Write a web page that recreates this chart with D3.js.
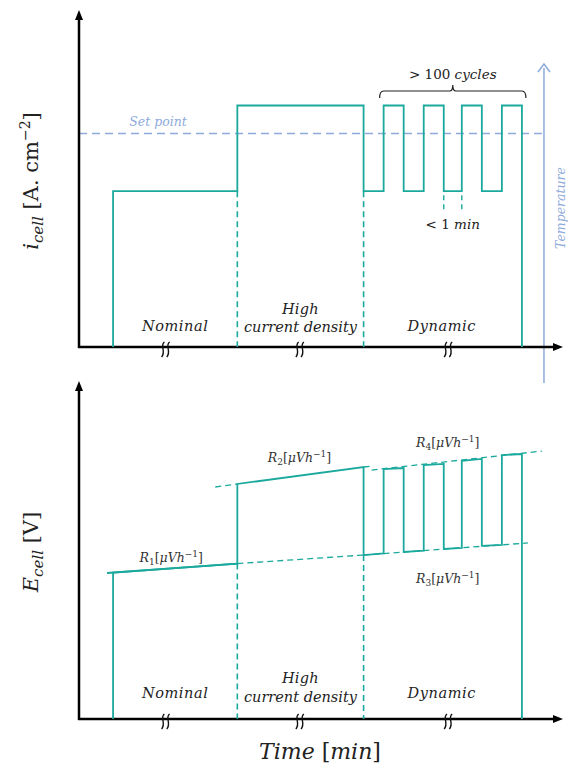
<!DOCTYPE html>
<html><head><meta charset="utf-8">
<script src="https://cdn.jsdelivr.net/npm/d3@7"></script>
<style>html,body{margin:0;padding:0;background:#fff}svg{display:block}</style>
</head><body>
<script>
// ---------- data (schematic, arbitrary units) ----------
const phaseNames = ["Nominal", "High|current density", "Dynamic"];
const phaseStart = [17, 79, 142];
const phaseEnd = [79, 142, 221];
const breakTimes = [43, 110, 184];

// current density step signal
const iTime  = [17,17,79,79,142,142,152,152,162,162,172,172,182,182,191,191,201,201,211,211,221,221];
const iValue = [0,1.0,1.0,1.55,1.55,1.0,1.0,1.55,1.55,1.0,1.0,1.55,1.55,1.0,1.0,1.55,1.55,1.0,1.0,1.55,1.55,0];
const setPoint = 1.37;
const shortGap = [182, 191];

// cell voltage signal
const eTime  = [17,17,79,79,142,142,152,152,162,162,172,172,182,182,191,191,201,201,211,211,221,221];
const eValue = [0,0.872,0.925,1.399,1.500,0.976,0.986,1.488,1.494,0.994,1.002,1.512,1.518,1.012,1.018,1.537,1.548,1.031,1.036,1.571,1.577,0];

// degradation-rate trend lines [t0, e0, t1, e1]
const r1Solid  = [14, 0.869, 79, 0.925];
const r1Dashed = [79, 0.925, 142, 0.976];
const r2DashL  = [68, 1.381, 79, 1.399];
const r2DashR  = [142, 1.500, 147, 1.506];
const r3Dashed = [142, 0.976, 224, 1.048];
const r4Dashed = [146, 1.482, 231, 1.595];
const rateLabels = [
  {n: "1", t: 46, e: 0.935},
  {n: "2", t: 110, e: 1.53},
  {n: "4", t: 184, e: 1.62},
  {n: "3", t: 184, e: 0.81}
];
const cycleSpan = [150, 223];
const tempTime = 232;

// ---------- layout ----------
const W = 568, H = 772;
const teal = "#1aa99c", blue = "#8eaadb", ink = "#222";
const serif = "'DejaVu Serif', serif";

const svg = d3.select("body").append("svg").attr("width", W).attr("height", H);
svg.append("rect").attr("width", W).attr("height", H).attr("fill", "#fff");

const x = d3.scaleLinear().domain([0, 240]).range([79, 560]);
const yTop = d3.scaleLinear().domain([0, 2.15]).range([347, 12]);
const yBot = d3.scaleLinear().domain([0, 2.0]).range([719, 383]);

function axes(g, y) {
  const y0 = y(0), yMax = y.range()[1];
  g.append("line").attr("x1", x(0)).attr("x2", x(0)).attr("y1", y0 + 1).attr("y2", yMax + 6)
    .attr("stroke", "#000").attr("stroke-width", 2.5);
  g.append("path").attr("d", `M${x(0)},${yMax - 2} L${x(0) - 4},${yMax + 8} L${x(0) + 4},${yMax + 8} Z`).attr("fill", "#000");
  g.append("line").attr("x1", x(0) - 1).attr("x2", 555).attr("y1", y0).attr("y2", y0)
    .attr("stroke", "#000").attr("stroke-width", 2.5);
  g.append("path").attr("d", `M563,${y0} L553,${y0 - 4} L553,${y0 + 4} Z`).attr("fill", "#000");
  breakTimes.forEach(t => {
    [-2.6, 2.6].forEach(dx => {
      const cx = x(t) + dx;
      g.append("path")
        .attr("d", `M${cx + 1.8},${y0 - 5} C${cx - 3.2},${y0 - 1} ${cx + 4},${y0 + 4} ${cx - 1},${y0 + 10}`)
        .attr("fill", "none").attr("stroke", "#111").attr("stroke-width", 1.4);
    });
  });
}

function phaseLabels(g, yHigh1, yHigh2, yOther) {
  phaseNames.forEach((n, k) => {
    const cx = x((phaseStart[k] + phaseEnd[k]) / 2);
    const parts = n.split("|");
    if (parts.length === 1) {
      g.append("text").attr("x", cx + (k === 2 ? -1 : 0)).attr("y", yOther).attr("text-anchor", "middle")
        .attr("font-family", serif).attr("font-style", "italic").attr("font-size", 14.5)
        .attr("letter-spacing", 0.6).attr("fill", ink).text(parts[0]);
    } else {
      g.append("text").attr("x", cx).attr("y", yHigh1).attr("text-anchor", "middle")
        .attr("font-family", serif).attr("font-style", "italic").attr("font-size", 14.5)
        .attr("letter-spacing", 0.3).attr("fill", ink).text(parts[0]);
      g.append("text").attr("x", cx).attr("y", yHigh2).attr("text-anchor", "middle")
        .attr("font-family", serif).attr("font-style", "italic").attr("font-size", 14.5).attr("fill", ink).text(parts[1]);
    }
  });
}

function seg(g, y, s, dashed, w) {
  g.append("line").attr("x1", x(s[0])).attr("y1", y(s[1])).attr("x2", x(s[2])).attr("y2", y(s[3]))
    .attr("stroke", teal).attr("stroke-width", w || 1.6)
    .attr("stroke-dasharray", dashed ? "6,4" : null);
}

// ---------- top panel ----------
const topG = svg.append("g");
// set point
topG.append("line").attr("x1", x(0)).attr("x2", x(tempTime)).attr("y1", yTop(setPoint)).attr("y2", yTop(setPoint))
  .attr("stroke", blue).attr("stroke-width", 1.4).attr("stroke-dasharray", "8,5");
topG.append("text").attr("x", 158).attr("y", yTop(setPoint) - 8).attr("text-anchor", "middle")
  .attr("font-family", serif).attr("font-style", "italic").attr("font-size", 12.5).attr("fill", blue).text("Set point");
// temperature arrow
topG.append("line").attr("x1", x(tempTime)).attr("x2", x(tempTime)).attr("y1", 383).attr("y2", 68)
  .attr("stroke", blue).attr("stroke-width", 1.5);
topG.append("path").attr("d", `M${x(tempTime) - 6},${72} L${x(tempTime)},${64} L${x(tempTime) + 6},${72}`)
  .attr("fill", "none").attr("stroke", blue).attr("stroke-width", 1.5);
topG.append("text").attr("transform", `translate(${x(tempTime) + 21},208) rotate(-90)`).attr("text-anchor", "middle")
  .attr("font-family", serif).attr("font-style", "italic").attr("font-size", 12.5).attr("fill", blue).text("Temperature");

axes(topG, yTop);

// phase boundary dashes
[79, 142].forEach(t => {
  topG.append("line").attr("x1", x(t)).attr("x2", x(t)).attr("y1", yTop(1.0)).attr("y2", yTop(0))
    .attr("stroke", teal).attr("stroke-width", 1.6).attr("stroke-dasharray", "6,4");
});
shortGap.forEach(t => {
  topG.append("line").attr("x1", x(t)).attr("x2", x(t)).attr("y1", yTop(1.0) + 4).attr("y2", yTop(0.88))
    .attr("stroke", teal).attr("stroke-width", 1.4).attr("stroke-dasharray", "5,4");
});

const lineTop = d3.line().x((d, k) => x(iTime[k])).y((d, k) => yTop(iValue[k]));
topG.append("path").attr("d", lineTop(iValue)).attr("fill", "none").attr("stroke", teal).attr("stroke-width", 1.8);

// brace
{
  const x1 = x(cycleSpan[0]), x2 = x(cycleSpan[1]), xm = (x1 + x2) / 2, yb = 91;
  topG.append("path")
    .attr("d", `M${x1},${yb + 7} Q${x1},${yb} ${x1 + 4},${yb} L${xm - 3},${yb} Q${xm},${yb} ${xm},${yb - 6} Q${xm},${yb} ${xm + 3},${yb} L${x2 - 4},${yb} Q${x2},${yb} ${x2},${yb + 7}`)
    .attr("fill", "none").attr("stroke", "#222").attr("stroke-width", 1.2);
  const t = topG.append("text").attr("x", xm).attr("y", 79).attr("text-anchor", "middle")
    .attr("font-family", serif).attr("font-size", 13.5).attr("fill", ink);
  t.append("tspan").text("> 100 ");
  t.append("tspan").attr("font-style", "italic").text("cycles");
  const t2 = topG.append("text").attr("x", x((shortGap[0] + shortGap[1]) / 2)).attr("y", 229).attr("text-anchor", "middle")
    .attr("font-family", serif).attr("font-size", 13.5).attr("fill", ink);
  t2.append("tspan").text("< 1 ");
  t2.append("tspan").attr("font-style", "italic").text("min");
}

phaseLabels(topG, 314, 332, 331);

// y label top
{
  const t = svg.append("text").attr("transform", "translate(38,181) rotate(-90)").attr("text-anchor", "middle")
    .attr("font-family", serif).attr("font-size", 21).attr("fill", ink);
  t.append("tspan").attr("font-style", "italic").text("i");
  t.append("tspan").attr("font-style", "italic").attr("font-size", 15).attr("dy", 5).text("cell");
  t.append("tspan").attr("dy", -5).text(" [A. cm");
  t.append("tspan").attr("font-size", 14).attr("dy", -8).text("−2");
  t.append("tspan").attr("dy", 8).text("]");
}

// ---------- bottom panel ----------
const botG = svg.append("g");
axes(botG, yBot);
[[79, 0.925], [142, 0.976]].forEach(([t, e]) => {
  botG.append("line").attr("x1", x(t)).attr("x2", x(t)).attr("y1", yBot(e)).attr("y2", yBot(0))
    .attr("stroke", teal).attr("stroke-width", 1.6).attr("stroke-dasharray", "6,4");
});
seg(botG, yBot, r1Solid, false, 1.8);
seg(botG, yBot, r1Dashed, true, 1.3);
seg(botG, yBot, r2DashL, true, 1.3);
seg(botG, yBot, r2DashR, true, 1.3);
seg(botG, yBot, r3Dashed, true, 1.3);
seg(botG, yBot, r4Dashed, true, 1.3);

const lineBot = d3.line().x((d, k) => x(eTime[k])).y((d, k) => yBot(eValue[k]));
botG.append("path").attr("d", lineBot(eValue)).attr("fill", "none").attr("stroke", teal).attr("stroke-width", 1.8);

rateLabels.forEach(r => {
  const t = botG.append("text").attr("x", x(r.t)).attr("y", yBot(r.e)).attr("text-anchor", "middle")
    .attr("font-family", serif).attr("font-size", 12.5).attr("fill", "#333");
  t.append("tspan").attr("font-style", "italic").text("R");
  t.append("tspan").attr("font-size", 9).attr("dy", 3).text(r.n);
  t.append("tspan").attr("dy", -3).text("[");
  t.append("tspan").attr("font-style", "italic").text("μVh");
  t.append("tspan").attr("font-size", 9).attr("dy", -5).text("−1");
  t.append("tspan").attr("dy", 5).text("]");
});

phaseLabels(botG, 683, 702, 698);

// y label bottom
{
  const t = svg.append("text").attr("transform", "translate(38,552) rotate(-90)").attr("text-anchor", "middle")
    .attr("font-family", serif).attr("font-size", 21).attr("fill", ink);
  t.append("tspan").attr("font-style", "italic").text("E");
  t.append("tspan").attr("font-style", "italic").attr("font-size", 15).attr("dy", 5).text("cell");
  t.append("tspan").attr("dy", -5).text(" [V]");
}
// x label
{
  const t = svg.append("text").attr("x", 320).attr("y", 759).attr("text-anchor", "middle")
    .attr("font-family", serif).attr("font-size", 22).attr("fill", ink);
  t.append("tspan").attr("font-style", "italic").text("Time ");
  t.append("tspan").text("[");
  t.append("tspan").attr("font-style", "italic").text("min");
  t.append("tspan").text("]");
}
</script>
</body></html>
